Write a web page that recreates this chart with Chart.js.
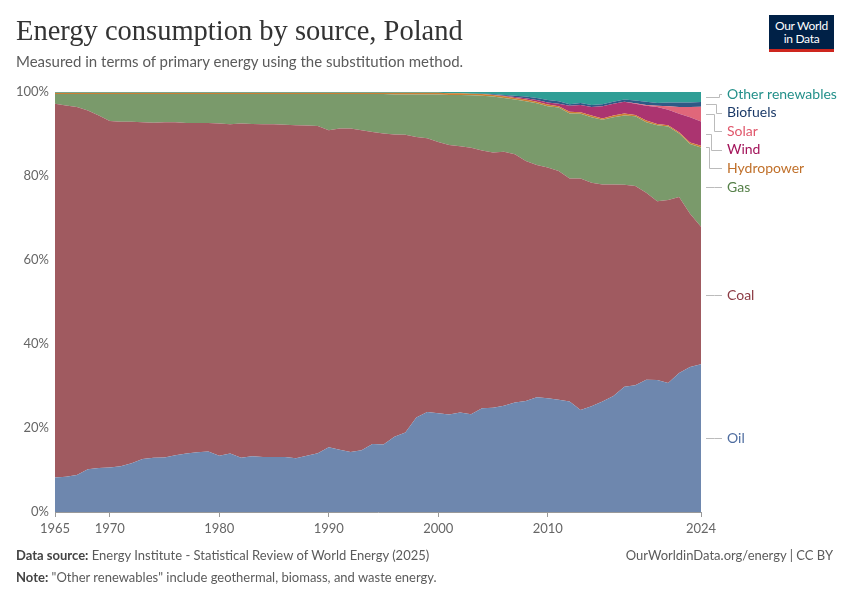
<!DOCTYPE html>
<html>
<head>
<meta charset="utf-8">
<script src="https://cdn.jsdelivr.net/npm/chart.js@4"></script>
<style>
  body { margin: 0; background: #fff; font-family: Lato, "Noto Sans", sans-serif; }
  #wrap { position: relative; width: 850px; height: 600px; overflow: hidden; }
  #chart { position: absolute; left: 0; top: 0; }
  .title { position: absolute; left: 16px; top: 15px; font-family: "Liberation Serif", "DejaVu Serif", serif; font-size: 28.5px; color: #333; }
  .subtitle { position: absolute; left: 16px; top: 52px; font-size: 15px; color: #5b5b5b; }
  .logo { position: absolute; left: 769px; top: 15px; width: 65px; background: #002147; border-bottom: 3px solid #ce261e; color: #fff; font-size: 12px; line-height: 13px; text-align: center; padding-top: 4px; height: 30px; letter-spacing: -0.3px; }
  .foot { position: absolute; font-size: 13px; color: #5b5b5b; }
  .foot b { color: #444; font-weight: 700; }
</style>
</head>
<body>
<div id="wrap">
  <canvas id="chart" width="850" height="600"></canvas>
  <div class="title">Energy consumption by source, Poland</div>
  <div class="subtitle">Measured in terms of primary energy using the substitution method.</div>
  <div class="logo">Our World<br>in Data</div>
  <div class="foot" style="left:16px; top:547px;"><b>Data source:</b> Energy Institute - Statistical Review of World Energy (2025)</div>
  <div class="foot" style="right:17px; top:547px;">OurWorldinData.org/energy | CC BY</div>
  <div class="foot" style="left:16px; top:569px;"><b>Note:</b> "Other renewables" include geothermal, biomass, and waste energy.</div>
</div>
<script>
var years = [];
for (var y = 1965; y <= 2024; y++) years.push(y);

var xTicks = [1965, 1970, 1980, 1990, 2000, 2010, 2024];

// shares of primary energy, %
var oil = [8.2, 8.4, 8.8, 10.2, 10.5, 10.6, 10.9, 11.6, 12.6, 12.9,
  13.0, 13.5, 13.9, 14.2, 14.4, 13.4, 13.9, 12.9, 13.3, 13.1,
  13.1, 13.1, 12.8, 13.4, 14.0, 15.4, 14.8, 14.3, 14.7, 16.2,
  16.1, 17.9, 18.9, 22.5, 23.8, 23.5, 23.2, 23.7, 23.3, 24.7,
  24.8, 25.3, 26.1, 26.4, 27.3, 27.1, 26.7, 26.3, 24.3, 25.2,
  26.3, 27.6, 29.8, 30.2, 31.5, 31.4, 30.7, 33.1, 34.5, 35.2];
var coal = [89.0, 88.4, 87.6, 85.4, 83.9, 82.5, 82.0, 81.3, 80.2, 79.8,
  79.8, 79.3, 78.7, 78.4, 78.2, 79.1, 78.4, 79.6, 79.1, 79.2,
  79.2, 79.1, 79.3, 78.6, 77.9, 75.5, 76.5, 77.0, 76.2, 74.3,
  74.0, 72.0, 70.9, 66.8, 65.2, 64.6, 64.2, 63.4, 63.4, 61.4,
  60.8, 60.5, 59.1, 57.2, 55.3, 54.9, 54.5, 53.1, 55.1, 53.2,
  51.7, 50.4, 48.1, 47.4, 44.5, 42.6, 43.6, 41.9, 36.5, 32.7];
var gas = [2.3, 2.7, 3.1, 3.9, 5.1, 6.4, 6.6, 6.6, 6.7, 6.8,
  6.7, 6.7, 6.9, 6.9, 6.9, 7.0, 7.2, 7.0, 7.1, 7.2,
  7.2, 7.3, 7.4, 7.5, 7.6, 8.6, 8.2, 8.2, 8.6, 9.0,
  9.4, 9.5, 9.6, 10.1, 10.4, 11.3, 11.9, 12.2, 12.5, 13.0,
  13.3, 12.8, 13.0, 14.2, 14.7, 14.6, 15.1, 15.5, 15.4, 15.6,
  15.4, 16.0, 16.5, 16.6, 16.8, 18.1, 17.5, 15.1, 16.6, 18.9];
var hydro = [0.3, 0.3, 0.3, 0.3, 0.3, 0.3, 0.3, 0.3, 0.3, 0.3,
  0.3, 0.3, 0.3, 0.3, 0.3, 0.3, 0.3, 0.3, 0.3, 0.3,
  0.3, 0.3, 0.3, 0.3, 0.3, 0.3, 0.3, 0.3, 0.3, 0.3,
  0.3, 0.4, 0.4, 0.4, 0.4, 0.4, 0.4, 0.4, 0.4, 0.4,
  0.4, 0.4, 0.4, 0.4, 0.4, 0.4, 0.3, 0.4, 0.4, 0.4,
  0.3, 0.4, 0.5, 0.3, 0.4, 0.3, 0.3, 0.3, 0.4, 0.4];
var wind = [0, 0, 0, 0, 0, 0, 0, 0, 0, 0,
  0, 0, 0, 0, 0, 0, 0, 0, 0, 0,
  0, 0, 0, 0, 0, 0, 0, 0, 0, 0,
  0, 0, 0, 0, 0, 0, 0, 0, 0, 0,
  0.05, 0.1, 0.2, 0.3, 0.4, 0.5, 0.6, 1.4, 1.7, 2.0,
  2.9, 2.8, 2.8, 2.7, 3.5, 4.0, 3.7, 4.4, 6.0, 5.8];
var solar = [0, 0, 0, 0, 0, 0, 0, 0, 0, 0,
  0, 0, 0, 0, 0, 0, 0, 0, 0, 0,
  0, 0, 0, 0, 0, 0, 0, 0, 0, 0,
  0, 0, 0, 0, 0, 0, 0, 0, 0, 0,
  0, 0, 0, 0, 0, 0, 0, 0, 0, 0,
  0, 0, 0, 0.1, 0.2, 0.3, 0.8, 1.6, 2.4, 3.5];
var biofuels = [0, 0, 0, 0, 0, 0, 0, 0, 0, 0,
  0, 0, 0, 0, 0, 0, 0, 0, 0, 0,
  0, 0, 0, 0, 0, 0, 0, 0, 0, 0,
  0, 0, 0, 0, 0, 0, 0, 0, 0, 0.1,
  0.15, 0.2, 0.3, 0.4, 0.5, 0.6, 0.6, 0.4, 0.5, 0.5,
  0.5, 0.5, 0.5, 0.7, 0.8, 0.7, 0.9, 1.1, 1.1, 1.1];
var otherRenewables = [0.2, 0.2, 0.2, 0.2, 0.2, 0.2, 0.2, 0.2, 0.2, 0.2,
  0.2, 0.2, 0.2, 0.2, 0.2, 0.2, 0.2, 0.2, 0.2, 0.2,
  0.2, 0.2, 0.2, 0.2, 0.2, 0.2, 0.2, 0.2, 0.2, 0.2,
  0.2, 0.2, 0.2, 0.2, 0.2, 0.2, 0.3, 0.3, 0.4, 0.4,
  0.5, 0.7, 0.9, 1.1, 1.4, 1.9, 2.2, 2.9, 2.6, 3.1,
  2.9, 2.3, 1.8, 2.0, 2.3, 2.6, 2.5, 2.5, 2.5, 2.4];

var series = [
  { name: "Oil", values: oil, fill: "#6e87ae", text: "#4e6c9f" },
  { name: "Coal", values: coal, fill: "#a05a60", text: "#8c3b44" },
  { name: "Gas", values: gas, fill: "#7a9a6b", text: "#568049" },
  { name: "Hydropower", values: hydro, fill: "#cd7f33", text: "#c0702a" },
  { name: "Wind", values: wind, fill: "#ab3470", text: "#a3145a" },
  { name: "Solar", values: solar, fill: "#e0677a", text: "#e0576b" },
  { name: "Biofuels", values: biofuels, fill: "#2f5a86", text: "#1b3a68" },
  { name: "Other renewables", values: otherRenewables, fill: "#2f9e96", text: "#23908a" }
];

var rightLabels = {
  id: "rightLabels",
  afterDraw: function (chart) {
    var ctx = chart.ctx, area = chart.chartArea, ys = chart.scales.y;
    var last = years.length - 1, cum = 0, items = [];
    series.forEach(function (s) {
      var v = s.values[last];
      items.push({ s: s, target: ys.getPixelForValue(cum + v / 2) });
      cum += v;
    });
    items.sort(function (a, b) { return a.target - b.target; });
    var gap = 18.6, top = area.top + 2, bottom = area.bottom;
    // group overlapping labels and centre each group on its targets
    var groups = items.map(function (it) { return { list: [it], pos: it.target }; });
    var moved = true;
    while (moved) {
      moved = false;
      groups.forEach(function (g) {
        var mean = g.list.reduce(function (a, it) { return a + it.target; }, 0) / g.list.length;
        var start = mean - (g.list.length - 1) * gap / 2;
        start = Math.max(top, Math.min(start, bottom - (g.list.length - 1) * gap));
        g.pos = start;
      });
      for (var i = 0; i < groups.length - 1; i++) {
        var a = groups[i], b = groups[i + 1];
        if (a.pos + a.list.length * gap > b.pos + 0.01) {
          a.list = a.list.concat(b.list);
          groups.splice(i + 1, 1);
          moved = true;
          break;
        }
      }
    }
    ctx.save();
    ctx.font = "14px Lato";
    ctx.textBaseline = "middle";
    var x0 = area.right + 5, x2 = area.right + 21;
    groups.forEach(function (g) {
      g.list.forEach(function (it, k) {
        var ly = g.pos + k * gap;
        var ex = g.list.length > 1 ? x2 - 3 - 2.6 * k : x0 + 8;
        ctx.strokeStyle = "#bbbbbb";
        ctx.lineWidth = 1;
        ctx.beginPath();
        ctx.moveTo(x0, Math.round(it.target) + 0.5);
        ctx.lineTo(Math.round(ex) + 0.5, Math.round(it.target) + 0.5);
        ctx.lineTo(Math.round(ex) + 0.5, Math.round(ly) + 0.5);
        ctx.lineTo(x2, Math.round(ly) + 0.5);
        ctx.stroke();
        ctx.fillStyle = it.s.text;
        ctx.fillText(it.s.name, x2 + 5, ly);
      });
    });
    ctx.restore();
  }
};

var ctx = document.getElementById("chart").getContext("2d");
var chart = new Chart(ctx, {
  type: "line",
  data: {
    datasets: series.map(function (s, i) {
      return {
        label: s.name,
        data: years.map(function (yr, j) { return { x: yr, y: s.values[j] }; }),
        backgroundColor: s.fill,
        borderWidth: 0,
        pointRadius: 0,
        fill: i === 0 ? "origin" : "-1",
        tension: 0
      };
    })
  },
  options: {
    responsive: false,
    animation: false,
    layout: { padding: { left: 16, right: 149, top: 92, bottom: 63 } },
    plugins: { legend: { display: false }, tooltip: { enabled: false } },
    scales: {
      x: {
        type: "linear",
        min: 1965,
        max: 2024,
        afterBuildTicks: function (scale) {
          scale.ticks = xTicks.map(function (v) { return { value: v }; });
        },
        afterFit: function (scale) { scale.height = 25; },
        grid: { drawOnChartArea: false, tickLength: 5, color: "#999" },
        border: { color: "#999" },
        ticks: {
          color: "#666",
          font: { family: "Lato", size: 13 },
          padding: 4,
          maxRotation: 0,
          autoSkip: false,
          callback: function (v) { return String(v); }
        }
      },
      y: {
        stacked: true,
        min: 0,
        max: 100,
        z: 1,
        afterFit: function (scale) { scale.width = 39; },
        border: { display: false },
        grid: { color: "rgba(200,200,200,0.35)", drawTicks: false },
        ticks: {
          stepSize: 20,
          color: "#666",
          font: { family: "Lato", size: 13 },
          padding: 6,
          callback: function (v) { return v + "%"; }
        }
      }
    }
  },
  plugins: [rightLabels]
});
</script>
</body>
</html>
